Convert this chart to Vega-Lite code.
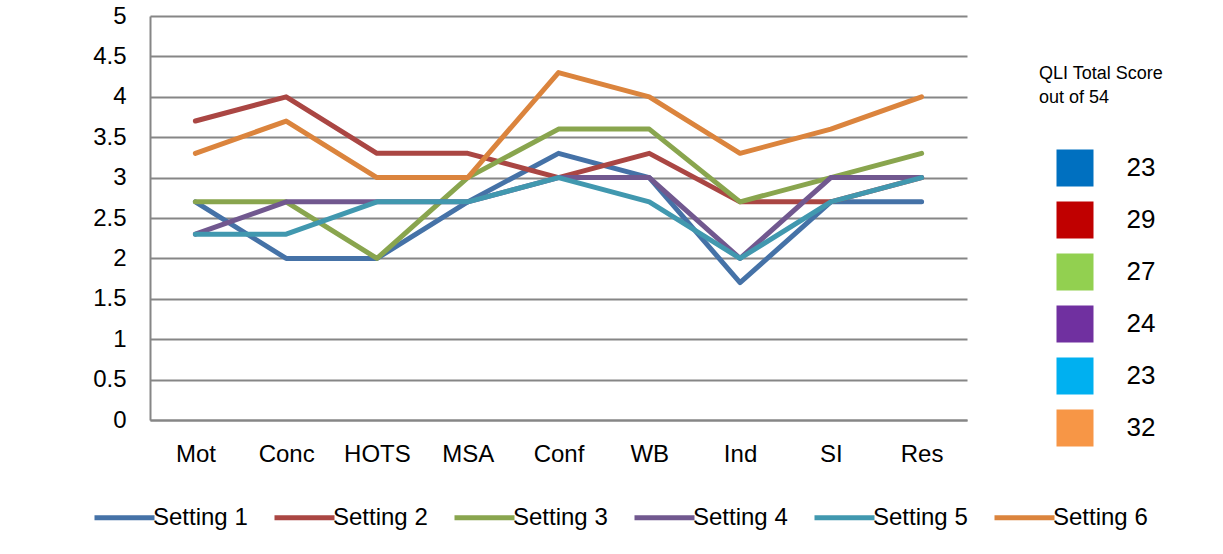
{
  "$schema": "https://vega.github.io/schema/vega-lite/v6.json",
  "padding": {"left": 92, "top": 4, "right": 10, "bottom": 10},
  "background": "white",
  "config": {
    "view": {"stroke": null},
    "font": "Liberation Sans",
    "text": {"font": "Liberation Sans"}
  },
  "data": {
    "values": [
      {"setting": "Setting 1", "item": "Mot", "value": 2.7},
      {"setting": "Setting 1", "item": "Conc", "value": 2.0},
      {"setting": "Setting 1", "item": "HOTS", "value": 2.0},
      {"setting": "Setting 1", "item": "MSA", "value": 2.7},
      {"setting": "Setting 1", "item": "Conf", "value": 3.3},
      {"setting": "Setting 1", "item": "WB", "value": 3.0},
      {"setting": "Setting 1", "item": "Ind", "value": 1.7},
      {"setting": "Setting 1", "item": "SI", "value": 2.7},
      {"setting": "Setting 1", "item": "Res", "value": 2.7},
      {"setting": "Setting 2", "item": "Mot", "value": 3.7},
      {"setting": "Setting 2", "item": "Conc", "value": 4.0},
      {"setting": "Setting 2", "item": "HOTS", "value": 3.3},
      {"setting": "Setting 2", "item": "MSA", "value": 3.3},
      {"setting": "Setting 2", "item": "Conf", "value": 3.0},
      {"setting": "Setting 2", "item": "WB", "value": 3.3},
      {"setting": "Setting 2", "item": "Ind", "value": 2.7},
      {"setting": "Setting 2", "item": "SI", "value": 2.7},
      {"setting": "Setting 2", "item": "Res", "value": 3.0},
      {"setting": "Setting 3", "item": "Mot", "value": 2.7},
      {"setting": "Setting 3", "item": "Conc", "value": 2.7},
      {"setting": "Setting 3", "item": "HOTS", "value": 2.0},
      {"setting": "Setting 3", "item": "MSA", "value": 3.0},
      {"setting": "Setting 3", "item": "Conf", "value": 3.6},
      {"setting": "Setting 3", "item": "WB", "value": 3.6},
      {"setting": "Setting 3", "item": "Ind", "value": 2.7},
      {"setting": "Setting 3", "item": "SI", "value": 3.0},
      {"setting": "Setting 3", "item": "Res", "value": 3.3},
      {"setting": "Setting 4", "item": "Mot", "value": 2.3},
      {"setting": "Setting 4", "item": "Conc", "value": 2.7},
      {"setting": "Setting 4", "item": "HOTS", "value": 2.7},
      {"setting": "Setting 4", "item": "MSA", "value": 2.7},
      {"setting": "Setting 4", "item": "Conf", "value": 3.0},
      {"setting": "Setting 4", "item": "WB", "value": 3.0},
      {"setting": "Setting 4", "item": "Ind", "value": 2.0},
      {"setting": "Setting 4", "item": "SI", "value": 3.0},
      {"setting": "Setting 4", "item": "Res", "value": 3.0},
      {"setting": "Setting 5", "item": "Mot", "value": 2.3},
      {"setting": "Setting 5", "item": "Conc", "value": 2.3},
      {"setting": "Setting 5", "item": "HOTS", "value": 2.7},
      {"setting": "Setting 5", "item": "MSA", "value": 2.7},
      {"setting": "Setting 5", "item": "Conf", "value": 3.0},
      {"setting": "Setting 5", "item": "WB", "value": 2.7},
      {"setting": "Setting 5", "item": "Ind", "value": 2.0},
      {"setting": "Setting 5", "item": "SI", "value": 2.7},
      {"setting": "Setting 5", "item": "Res", "value": 3.0},
      {"setting": "Setting 6", "item": "Mot", "value": 3.3},
      {"setting": "Setting 6", "item": "Conc", "value": 3.7},
      {"setting": "Setting 6", "item": "HOTS", "value": 3.0},
      {"setting": "Setting 6", "item": "MSA", "value": 3.0},
      {"setting": "Setting 6", "item": "Conf", "value": 4.3},
      {"setting": "Setting 6", "item": "WB", "value": 4.0},
      {"setting": "Setting 6", "item": "Ind", "value": 3.3},
      {"setting": "Setting 6", "item": "SI", "value": 3.6},
      {"setting": "Setting 6", "item": "Res", "value": 4.0}
    ]
  },
  "hconcat": [
    {
      "width": 817,
      "height": 404,
      "mark": {"type": "line", "strokeWidth": 5, "strokeJoin": "round", "strokeCap": "round"},
      "encoding": {
        "x": {
          "field": "item", "type": "nominal",
          "sort": ["Mot", "Conc", "HOTS", "MSA", "Conf", "WB", "Ind", "SI", "Res"],
          "scale": {"type": "point", "padding": 0.5},
          "axis": {"title": null, "labelAngle": 0, "labelFontSize": 24, "labelColor": "black", "labelPadding": 22, "ticks": false, "domainColor": "#868686", "domainWidth": 2, "grid": false}
        },
        "y": {
          "field": "value", "type": "quantitative",
          "scale": {"domain": [0, 5], "nice": false},
          "axis": {"title": null, "values": [0, 0.5, 1, 1.5, 2, 2.5, 3, 3.5, 4, 4.5, 5], "format": "~g", "labelFontSize": 24, "labelColor": "black", "labelPadding": 24, "ticks": false, "domainColor": "#868686", "domainWidth": 2, "gridColor": "#868686", "gridWidth": 2}
        },
        "color": {
          "field": "setting", "type": "nominal",
          "scale": {"domain": ["Setting 1", "Setting 2", "Setting 3", "Setting 4", "Setting 5", "Setting 6"], "range": ["#4572A7", "#AA4643", "#89A54E", "#71588F", "#4198AF", "#DB843D"]},
          "legend": {"title": null, "orient": "none", "direction": "horizontal", "columns": 6, "legendX": -58, "legendY": 469, "symbolType": "stroke", "symbolSize": 3600, "symbolStrokeWidth": 5, "labelFontSize": 24, "labelColor": "black", "labelOffset": -4, "columnPadding": 16, "labelLimit": 200}
        }
      }
    },
    {
      "width": 72,
      "height": 440,
      "title": {"text": ["QLI Total Score", "out of 54"], "anchor": "start", "fontSize": 18, "fontWeight": "normal", "color": "black", "offset": -91, "lineHeight": 24},
      "transform": [{"aggregate": [{"op": "sum", "field": "value", "as": "total"}], "groupby": ["setting"]}],
      "layer": [
        {
          "mark": {"type": "point", "shape": "square", "filled": true, "size": 1369, "opacity": 1},
          "encoding": {
            "y": {"field": "setting", "type": "nominal", "axis": null, "scale": {"type": "point", "padding": 0, "range": [152, 412]}},
            "fill": {"field": "setting", "type": "nominal", "scale": {"domain": ["Setting 1", "Setting 2", "Setting 3", "Setting 4", "Setting 5", "Setting 6"], "range": ["#0070C0", "#C00000", "#92D050", "#7030A0", "#00B0F0", "#F79646"]}, "legend": null}
          }
        },
        {
          "mark": {"type": "text", "dx": 66, "fontSize": 26, "align": "center", "baseline": "middle", "color": "black"},
          "encoding": {
            "y": {"field": "setting", "type": "nominal", "axis": null, "scale": {"type": "point", "padding": 0, "range": [152, 412]}},
            "text": {"field": "total", "type": "quantitative", "format": ".0f"}
          }
        }
      ]
    }
  ],
  "spacing": 72
}
